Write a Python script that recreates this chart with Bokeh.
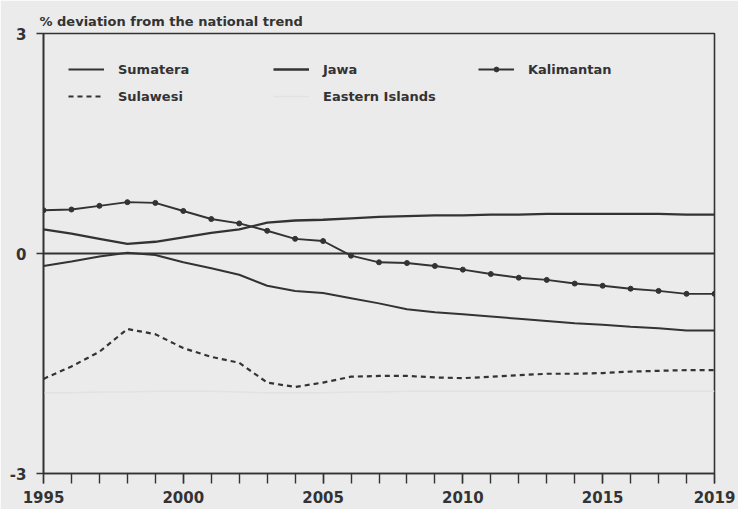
from bokeh.plotting import figure
from bokeh.models import Span, Legend, LegendItem, FixedTicker
from bokeh.embed import file_html
from bokeh.resources import INLINE

# Regional deviation from the national trend, in percent
years = list(range(1995, 2020))

sumatera = [-0.17, -0.11, -0.04, 0.01, -0.02, -0.12, -0.20, -0.29, -0.44, -0.51,
            -0.54, -0.61, -0.68, -0.76, -0.80, -0.83, -0.86, -0.89, -0.92, -0.95,
            -0.97, -1.00, -1.02, -1.05, -1.05]
jawa = [0.33, 0.27, 0.20, 0.13, 0.16, 0.22, 0.28, 0.33, 0.42, 0.45,
        0.46, 0.48, 0.50, 0.51, 0.52, 0.52, 0.53, 0.53, 0.54, 0.54,
        0.54, 0.54, 0.54, 0.53, 0.53]
kalimantan = [0.59, 0.60, 0.65, 0.70, 0.69, 0.58, 0.47, 0.41, 0.31, 0.20,
              0.17, -0.03, -0.12, -0.13, -0.17, -0.22, -0.28, -0.33, -0.36, -0.41,
              -0.44, -0.48, -0.51, -0.55, -0.55]
sulawesi = [-1.71, -1.54, -1.34, -1.03, -1.10, -1.29, -1.41, -1.49, -1.76, -1.82,
            -1.76, -1.68, -1.67, -1.67, -1.69, -1.70, -1.68, -1.66, -1.64, -1.64,
            -1.63, -1.61, -1.60, -1.59, -1.59]
eastern = [-1.90, -1.90, -1.89, -1.89, -1.88, -1.88, -1.88, -1.89, -1.90, -1.90,
           -1.90, -1.89, -1.89, -1.88, -1.88, -1.88, -1.88, -1.88, -1.88, -1.88,
           -1.88, -1.88, -1.88, -1.88, -1.88]

x_ticks = [1995, 2000, 2005, 2010, 2015, 2019]
y_ticks = [-3, 0, 3]
y_tick_labels = {-3: "-3", 0: "0", 3: "3"}

BG = "#ebebeb"
INK = "#333333"
FONT = "DejaVu Sans"

p = figure(width=738, height=509, x_range=(1995, 2019), y_range=(-3, 3),
           output_backend="svg", toolbar_location=None,
           min_border_left=43, min_border_right=24, min_border_top=33,
           min_border_bottom=36)

p.background_fill_color = BG
p.border_fill_color = BG
p.outline_line_color = INK
p.outline_line_width = 1.6
p.xgrid.visible = False
p.ygrid.visible = False

p.title.text = "% deviation from the national trend"
p.title.text_font = FONT
p.title.text_font_size = "13px"
p.title.text_font_style = "bold"
p.title.text_color = INK
p.title.align = "left"
p.title.offset = -4
p.title.standoff = 10

for ax in (p.xaxis, p.yaxis):
    ax.axis_line_color = INK
    ax.axis_line_width = 1.6
    ax.major_tick_line_color = INK
    ax.minor_tick_line_color = INK
    ax.major_tick_line_width = 1.4
    ax.minor_tick_line_width = 1.4
    ax.major_tick_in = 0
    ax.minor_tick_in = 0
    ax.major_label_text_font = FONT
    ax.major_label_text_font_size = "15px"
    ax.major_label_text_font_style = "bold"
    ax.major_label_text_color = INK

p.xaxis.ticker = FixedTicker(ticks=x_ticks, minor_ticks=years)
p.xaxis.major_tick_out = 10
p.xaxis.minor_tick_out = 10
p.xaxis.major_label_standoff = 7

p.yaxis.ticker = FixedTicker(ticks=y_ticks)
p.yaxis.major_label_overrides = y_tick_labels
p.yaxis.major_tick_out = 7
p.yaxis.minor_tick_out = 0
p.yaxis.major_label_standoff = 10

# zero reference line
p.add_layout(Span(location=0, dimension="width", line_color=INK, line_width=1.8))

r_sum = p.line(years, sumatera, line_color=INK, line_width=2.0)
r_jaw = p.line(years, jawa, line_color=INK, line_width=2.3)
r_kal = p.line(years, kalimantan, line_color=INK, line_width=1.9)
r_kal_pts = p.scatter(years, kalimantan, size=5, marker="circle",
                      fill_color=INK, line_color=INK)
r_sul = p.line(years, sulawesi, line_color=INK, line_width=2.2, line_dash="5 4")
r_eas = p.line(years, eastern, line_color="#e2e2e2", line_width=1.5)

legend = Legend(items=[
    LegendItem(label="Sumatera", renderers=[r_sum]),
    LegendItem(label="Jawa", renderers=[r_jaw]),
    LegendItem(label="Kalimantan", renderers=[r_kal, r_kal_pts]),
    LegendItem(label="Sulawesi", renderers=[r_sul]),
    LegendItem(label="Eastern Islands", renderers=[r_eas]),
], orientation="horizontal", nrows=2, location=(25, 367))
legend.background_fill_alpha = 0
legend.border_line_alpha = 0
legend.padding = 0
legend.margin = 0
legend.spacing = 7
legend.glyph_width = 36
legend.glyph_height = 12
legend.label_height = 20
legend.label_width = 148
legend.label_standoff = 14
legend.label_text_font = FONT
legend.label_text_font_size = "13px"
legend.label_text_font_style = "bold"
legend.label_text_color = INK
p.add_layout(legend)

open("out.html", "w").write(file_html(p, INLINE))
